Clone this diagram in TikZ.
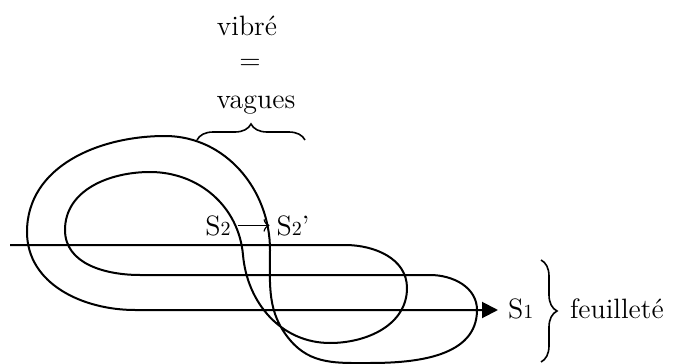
\documentclass[tikz,border=0pt]{standalone}
\usepackage{amsmath}
\usetikzlibrary{calc}
\usetikzlibrary{arrows.meta}
\usetikzlibrary{decorations.pathreplacing}

\newcommand{\idx}[1]{{\fontsize{10}{10}\selectfont #1}}

\begin{document}
\begin{tikzpicture}[x=0.5pt, y=-0.5pt,
    every node/.style={font=\fontsize{14}{16}\selectfont},
    sheet/.style={line width=1pt},
    brc/.style={line width=0.8pt, decorate, decoration={brace, amplitude=8pt}}]
    \useasboundingbox (0, 0) rectangle (676, 364);

    \coordinate (l1) at (10, 245);
    \coordinate (l1e) at (345, 245);
    \coordinate (r1) at (407, 288);
    \coordinate (b1) at (330, 343);
    \coordinate (a) at (243, 255);
    \coordinate (t1) at (150, 172);
    \coordinate (w1) at (65, 230);
    \coordinate (l2) at (140, 275);
    \coordinate (l2e) at (430, 275);
    \coordinate (r2) at (477, 310);
    \coordinate (b2) at (370, 363);
    \coordinate (c) at (290, 340);
    \coordinate (bb) at (270, 250);
    \coordinate (t2) at (165, 136);
    \coordinate (w2) at (27, 232);
    \coordinate (l3) at (135, 310);
    \coordinate (tip) at (498, 310);

    % the folded sheet, one stroke
    \draw [sheet, -{Triangle[length=8pt, width=8pt]}] (l1) -- (l1e)
        to[out=0, in=90] (r1) to[out=-90, in=0] (b1)
        to[out=180, in=-85] (a) to[out=95, in=0] (t1)
        to[out=180, in=90] (w1) to[out=-90, in=180] (l2) -- (l2e)
        to[out=0, in=90] (r2) to[out=-90, in=0] (b2)
        to[out=180, in=-50] (c) to[out=130, in=-90] (bb)
        to[out=90, in=0] (t2)
        to[out=180, in=90] (w2) to[out=-90, in=180] (l3) -- (tip);

    \node [anchor=base] (vibre) at (247, 35) {vibré};
    \node (eq) at (250, 64) {=};
    \node [anchor=base] (vagues) at (256, 108) {vagues};
    \draw [brc] (197, 140) -- (305, 140);

    \node [anchor=base] (s2) at (218, 235) {S\idx{2}};
    \node [anchor=base] (s2p) at (293, 235) {S\idx{2}'};
    \draw [line width=0.6pt, -{To[length=3pt]}] (s2) -- (s2p);

    \node [anchor=base west] (s1) at (501, 318) {S\idx{1}};
    \draw [brc] (541, 260) -- (541, 362);
    \node [anchor=base west] (feuil) at (563, 318) {feuilleté};
\end{tikzpicture}
\end{document}
